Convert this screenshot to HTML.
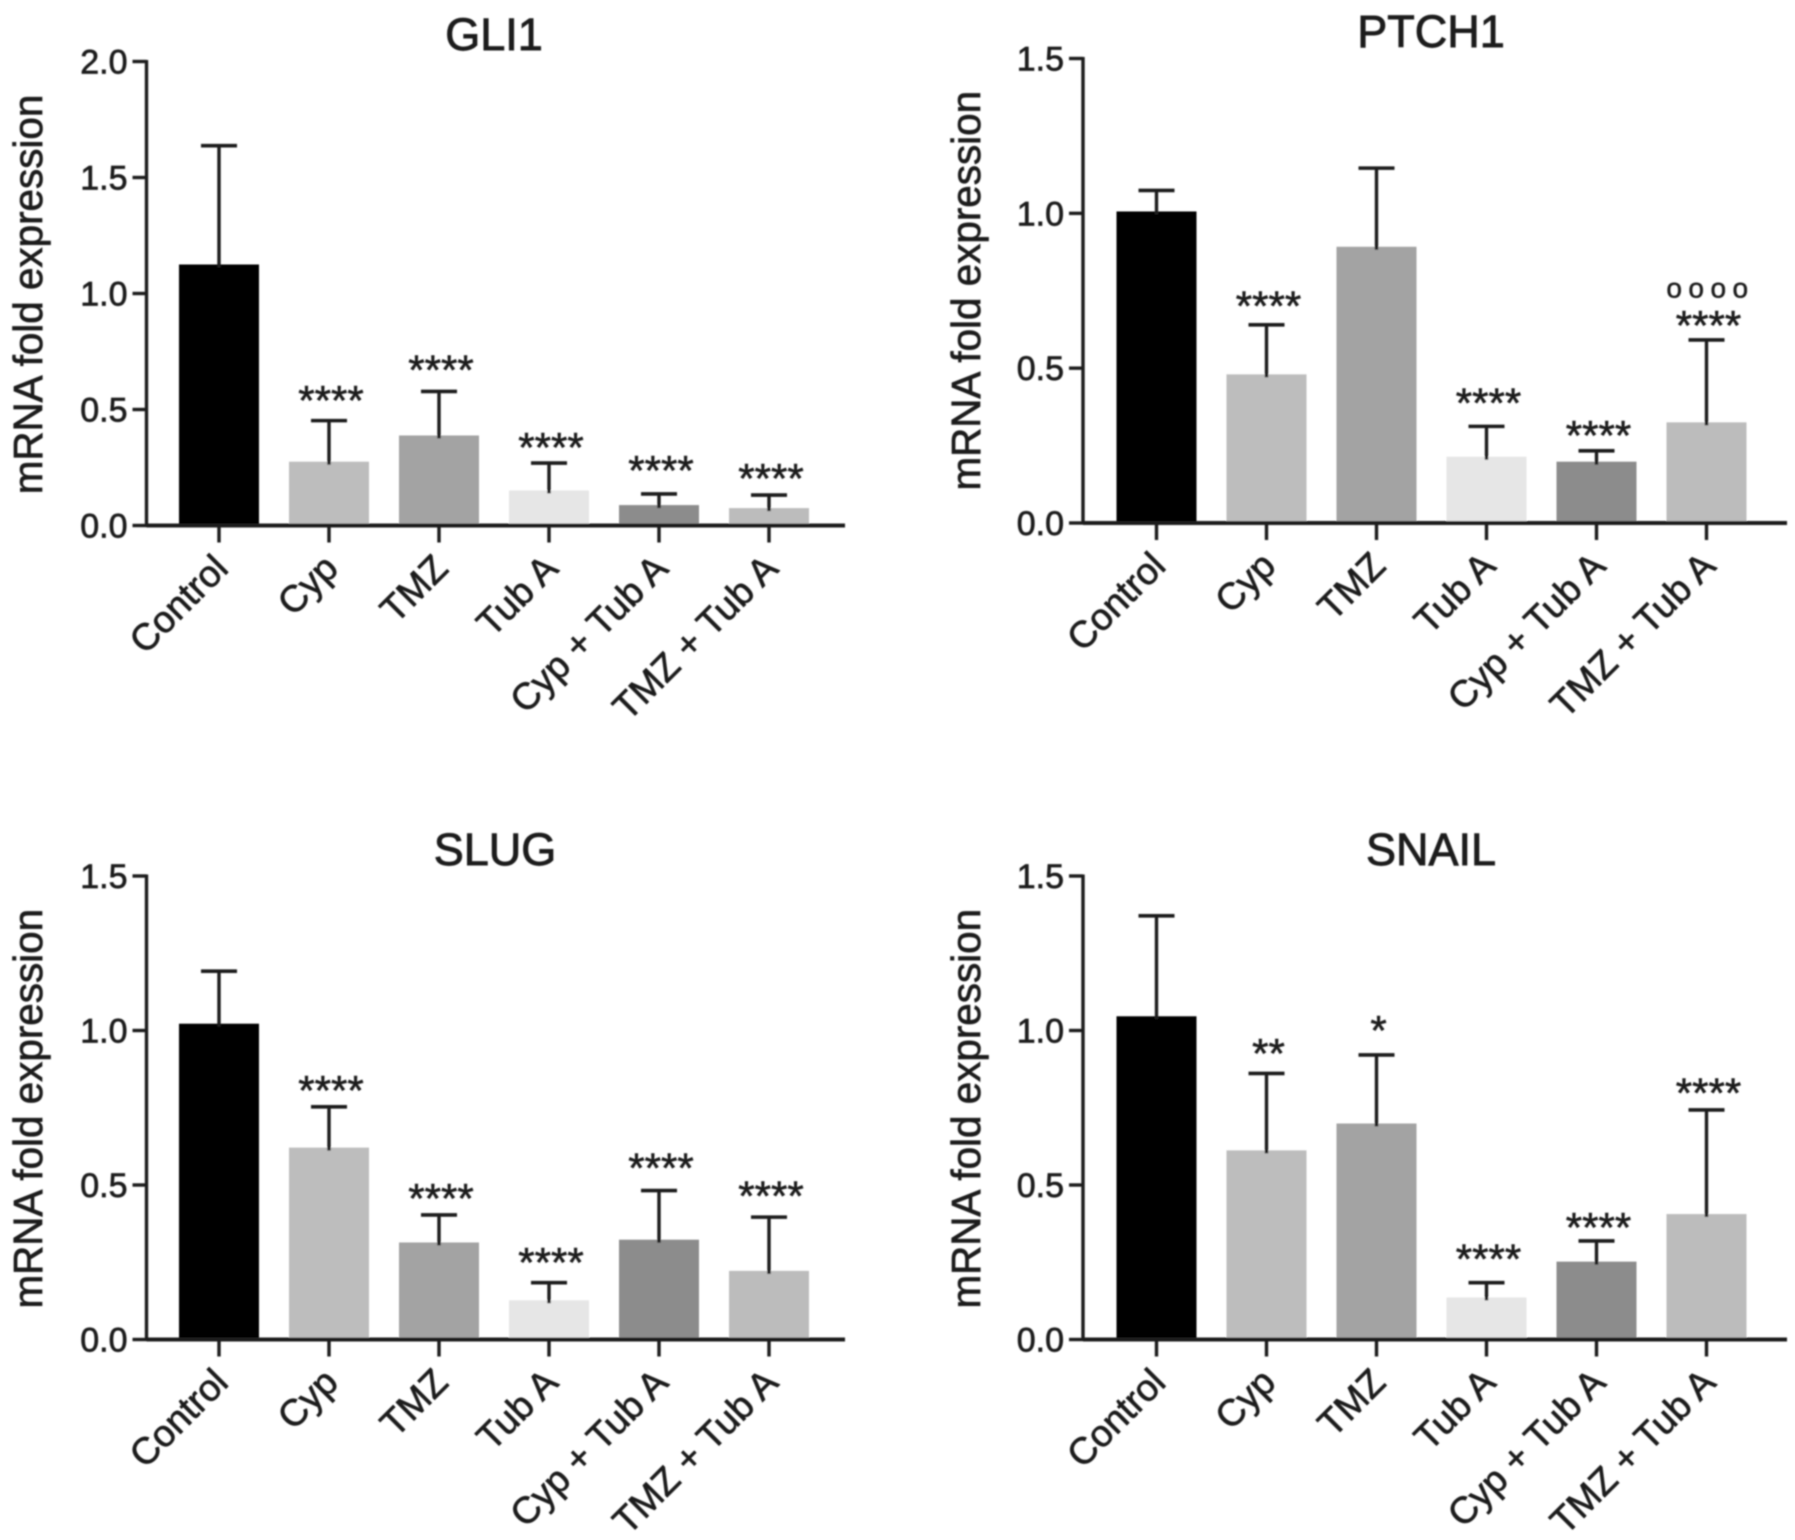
<!DOCTYPE html>
<html lang="en">
<head>
<meta charset="utf-8">
<title>mRNA fold expression</title>
<style>
  html, body { margin: 0; padding: 0; background: #fff; }
  svg { display: block; font-family: "Liberation Sans", Arial, sans-serif; }
</style>
</head>
<body>
<svg id="figure" xmlns="http://www.w3.org/2000/svg" width="1795" height="1540" viewBox="0 0 1795 1540">
  <defs><filter id="soft" x="-2%" y="-2%" width="104%" height="104%"><feGaussianBlur stdDeviation="0.9"/></filter></defs>
  <g id="root" filter="url(#soft)"></g>
</svg>
<script>
const categories = ['Control', 'Cyp', 'TMZ', 'Tub A', 'Cyp + Tub A', 'TMZ + Tub A'];
const barColors = ['#000000', '#bdbdbd', '#a3a3a3', '#e6e6e6', '#8c8c8c', '#bcbcbc'];

const gli1Means = [1.125, 0.275, 0.388, 0.151, 0.088, 0.075];
const gli1Errors = [1.637, 0.452, 0.578, 0.269, 0.136, 0.131];
const gli1Marks = ['', '****', '****', '****', '****', '****'];
const gli1Ticks = ['0.0', '0.5', '1.0', '1.5', '2.0'];

const ptch1Means = [1.006, 0.48, 0.892, 0.214, 0.198, 0.325];
const ptch1Errors = [1.074, 0.64, 1.146, 0.312, 0.233, 0.591];
const ptch1Marks = ['', '****', '', '****', '****', '****'];
const ptch1Extra = ['', '', '', '', '', 'oooo'];
const ptch1Ticks = ['0.0', '0.5', '1.0', '1.5'];

const slugMeans = [1.022, 0.621, 0.314, 0.127, 0.323, 0.222];
const slugErrors = [1.192, 0.753, 0.403, 0.184, 0.482, 0.396];
const slugMarks = ['', '****', '****', '****', '****', '****'];
const slugTicks = ['0.0', '0.5', '1.0', '1.5'];

const snailMeans = [1.046, 0.612, 0.699, 0.136, 0.252, 0.406];
const snailErrors = [1.371, 0.861, 0.921, 0.184, 0.319, 0.743];
const snailMarks = ['', '**', '*', '****', '****', '****'];
const snailTicks = ['0.0', '0.5', '1.0', '1.5'];

const panels = [
  { key: 'gli1', title: 'GLI1', means: gli1Means, errors: gli1Errors, marks: gli1Marks, extra: null, ticks: gli1Ticks,
    markLift: [0, 4.6, 5.7, 0, 8, 1],
    axisX: 146.5, firstX: 219, baseY: 525.5, topY: 61.5, endX: 845, titleX: 494, titleY: 50, labelX: 42, labelShift: 1 },
  { key: 'ptch1', title: 'PTCH1', means: ptch1Means, errors: ptch1Errors, marks: ptch1Marks, extra: ptch1Extra, ticks: ptch1Ticks,
    markLift: [0, 3.4, 0, 8, 0, -1],
    axisX: 1083, firstX: 1156.5, baseY: 523, topY: 58.5, endX: 1787, titleX: 1431, titleY: 47, labelX: 980, labelShift: 0 },
  { key: 'slug', title: 'SLUG', means: slugMeans, errors: slugErrors, marks: slugMarks, extra: null, ticks: slugTicks,
    markLift: [0, 1, 1, 4.6, 6.9, 5.7],
    axisX: 146.5, firstX: 219, baseY: 1339.5, topY: 876, endX: 845, titleX: 495, titleY: 865, labelX: 42, labelShift: 1 },
  { key: 'snail', title: 'SNAIL', means: snailMeans, errors: snailErrors, marks: snailMarks, extra: null, ticks: snailTicks,
    markLift: [0, 4.6, 9, 8, -2.3, 1.5],
    axisX: 1083, firstX: 1156.5, baseY: 1339.5, topY: 876, endX: 1787, titleX: 1431, titleY: 865, labelX: 980, labelShift: 1 }
];

const SVG_NS = 'http://www.w3.org/2000/svg';
const INK = '#1c1c1c';
const BAR_W = 80;
const STEP = 110;
const root = document.getElementById('root');

function make(parent, tag, attrs, text) {
  const el = document.createElementNS(SVG_NS, tag);
  for (const k in attrs) el.setAttribute(k, attrs[k]);
  if (text !== undefined) el.textContent = text;
  parent.appendChild(el);
  return el;
}

panels.forEach(function (p) {
  const yMax = parseFloat(p.ticks[p.ticks.length - 1]);
  const yScale = function (v) { return p.baseY - (v / yMax) * (p.baseY - p.topY); };
  const xScale = function (i) { return p.firstX + i * STEP; };

  const g = make(root, 'g', {});
  
  

  const title = make(g, 'text', { x: p.titleX, y: p.titleY, 'text-anchor': 'middle', 'font-size': 45, fill: INK, stroke: INK, 'stroke-width': 0.9 }, p.title);
  
  

  const midY = (p.baseY + p.topY) / 2 + p.labelShift;
  const yTitle = make(g, 'text', { transform: 'translate(' + p.labelX + ',' + midY + ') rotate(-90)', 'text-anchor': 'middle', 'font-size': 40.4, fill: INK, stroke: INK, 'stroke-width': 0.7 }, 'mRNA fold expression');
  
  

  categories.forEach(function (c, i) {
    const cx = xScale(i);
    const top = yScale(p.means[i]);
    const bar = make(g, 'rect', { x: cx - BAR_W / 2, y: top, width: BAR_W, height: p.baseY - top, fill: barColors[i] });
    
    

    const capY = yScale(p.errors[i]);
    const stem = make(g, 'line', { x1: cx, x2: cx, y1: top + 3, y2: capY, stroke: INK, 'stroke-width': 3.4 });
    
    
    const cap = make(g, 'line', { x1: cx - 18, x2: cx + 18, y1: capY, y2: capY, stroke: INK, 'stroke-width': 3.6 });
    
    

    if (p.marks[i]) {
      const mark = make(g, 'text', { x: cx + 2, y: capY - 1 - p.markLift[i], 'text-anchor': 'middle', 'font-size': 42, fill: INK, stroke: INK, 'stroke-width': 0.6 }, p.marks[i]);
      
      
    }
    if (p.extra && p.extra[i]) {
      const extra = make(g, 'text', { x: cx + 4, y: capY - 42.5, 'text-anchor': 'middle', 'font-size': 28, 'letter-spacing': 6.5, fill: INK, stroke: INK, 'stroke-width': 0.5 }, p.extra[i]);
      
      
    }

    const tick = make(g, 'line', { x1: cx, x2: cx, y1: p.baseY, y2: p.baseY + 17, stroke: INK, 'stroke-width': 3.4 });
    
    

    const ax = cx + 11;
    const ay = p.baseY + 45;
    const label = make(g, 'text', { transform: 'translate(' + ax + ',' + ay + ') rotate(-45)', 'text-anchor': 'end', 'font-size': 37.3, fill: INK, stroke: INK, 'stroke-width': 0.7 }, c);
    
    
  });

  p.ticks.forEach(function (t) {
    const ty = yScale(parseFloat(t));
    const tick = make(g, 'line', { x1: p.axisX - 14, x2: p.axisX, y1: ty, y2: ty, stroke: INK, 'stroke-width': 3.4 });
    
    
    const lab = make(g, 'text', { x: p.axisX - 19, y: ty + 12, 'text-anchor': 'end', 'font-size': 34, fill: INK, stroke: INK, 'stroke-width': 0.7 }, t);
    
    
  });

  const yAxis = make(g, 'line', { x1: p.axisX, x2: p.axisX, y1: p.topY - 1.5, y2: p.baseY + 1.5, stroke: INK, 'stroke-width': 3.4 });
  
  
  const xAxis = make(g, 'line', { x1: p.axisX, x2: p.endX, y1: p.baseY, y2: p.baseY, stroke: INK, 'stroke-width': 4 });
  
  
});
</script>
</body>
</html>
